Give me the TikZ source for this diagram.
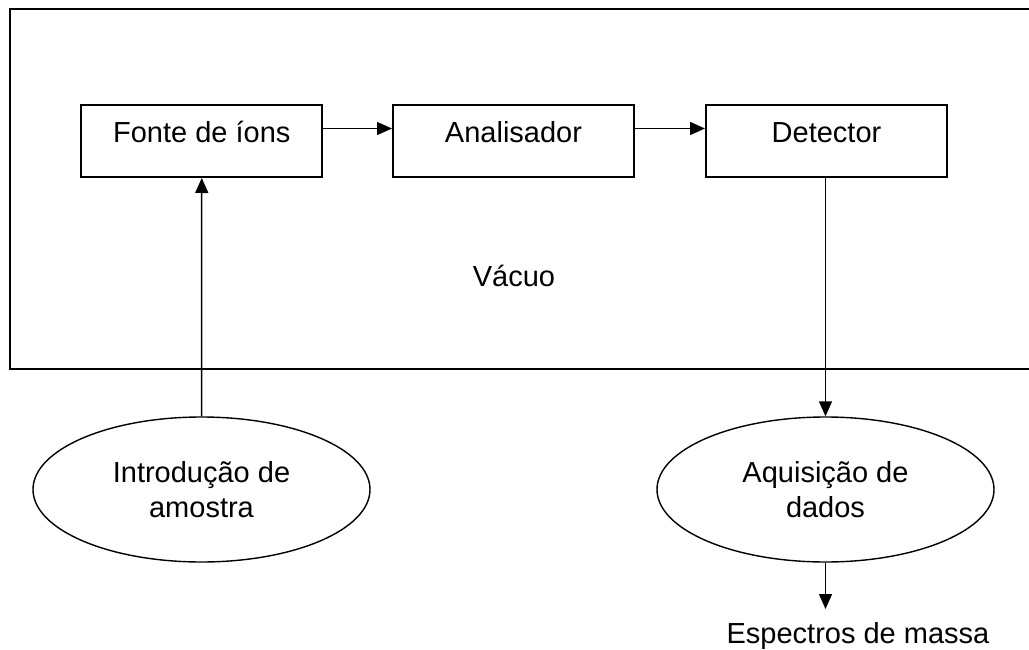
\documentclass[tikz,border=0pt]{standalone}
\usepackage{fontspec}
\setmainfont{Liberation Sans}
\usetikzlibrary{shapes.geometric,arrows.meta}
\begin{document}
\begin{tikzpicture}[x=1pt,y=-1pt,
  every node/.style={font=\fontsize{29}{35}\selectfont},
  box/.style={draw,line width=2pt,rectangle,minimum width=241pt,minimum height=72pt,inner xsep=0pt,inner ysep=17pt,text height=21pt,text depth=17pt},
  oval/.style={draw,line width=1.4pt,ellipse,minimum width=337pt,minimum height=145pt,inner sep=0pt,align=center},
  arr/.style={line width=1.5pt,-{Triangle[length=15pt,width=13pt]}}]
\useasboundingbox (0,0) rectangle (1029,650);
\draw[line width=2pt] (1040,9.5) -- (9.5,9.5) -- (9.5,369) -- (1040,369);
\node[box] (f) at (201.75,141) {Fonte de íons};
\node[box] (a) at (513.5,141) {Analisador};
\node[box] (d) at (826.5,141) {Detector};
\node[anchor=base] (v) at (514,286) {Vácuo};
\coordinate (yl) at (0,128.5);
\draw[arr] (f.east |- yl) -- (a.west |- yl);
\draw[arr] (a.east |- yl) -- (d.west |- yl);
\node[oval] (i) at (201.5,489.5) {Introdução de\\amostra};
\node[oval] (q) at (825.5,489.5) {Aquisição de\\dados};
\draw[arr] (i.north) -- (f.south);
\draw[arr] (d.south -| q.north) -- (q.north);
\node[anchor=base] (e) at (858,643) {Espectros de massa};
\coordinate (etip) at (825.5,609);
\draw[arr] (q.south) -- (etip);
\end{tikzpicture}
\end{document}
